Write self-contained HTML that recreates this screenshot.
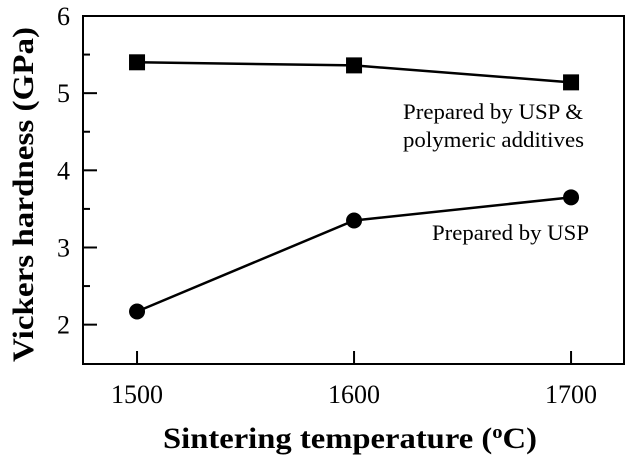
<!DOCTYPE html>
<html><head><meta charset="utf-8"><style>
html,body{margin:0;padding:0;background:#fff;}
svg{display:block;font-family:"Liberation Serif",serif;}
</style></head><body>
<svg id="chart" width="627" height="460" viewBox="0 0 627 460"></svg>
<script>
const categories=[1500,1600,1700];
const seriesUSPAdditives=[5.40,5.36,5.14];
const seriesUSP=[2.17,3.35,3.65];
const xTicks=[1500,1600,1700];
const yTicks=[2,3,4,5,6];
const yMinor=[2.5,3.5,4.5,5.5];

const svg=document.getElementById('chart');
const NS='http://www.w3.org/2000/svg';
const L=83,R=624,T=16,B=364;
const xMin=1475.1,xMax=1724.4,yMin=1.49,yMax=6.0;
const X=v=>L+(v-xMin)/(xMax-xMin)*(R-L);
const Y=v=>B-(v-yMin)/(yMax-yMin)*(B-T);
function mk(tag,attrs,parent){const e=document.createElementNS(NS,tag);for(const k in attrs)e.setAttribute(k,attrs[k]);(parent||svg).appendChild(e);return e;}

const frame=mk('rect',{x:L,y:T,width:R-L,height:B-T,fill:'none',stroke:'#000','stroke-width':2});



yTicks.forEach(v=>{
  const t=mk('line',{x1:L,x2:L+14,y1:Y(v),y2:Y(v),stroke:'#000','stroke-width':2});
  
  
  const lb=mk('text',{x:70,y:Y(v)+9,'text-anchor':'end','font-size':26});
  lb.textContent=v;
  
  
});
yMinor.forEach(v=>{
  const t=mk('line',{x1:L,x2:L+7,y1:Y(v),y2:Y(v),stroke:'#000','stroke-width':2});
  
  
});
xTicks.forEach(v=>{
  const t=mk('line',{x1:X(v),x2:X(v),y1:B,y2:B-13,stroke:'#000','stroke-width':2});
  
  
  const lb=mk('text',{x:X(v),y:403,'text-anchor':'middle','font-size':26});
  lb.textContent=v;
  
  
});

function series(vals,shape,name){
  const pts=categories.map((c,i)=>X(c)+','+Y(vals[i])).join(' ');
  const pl=mk('polyline',{points:pts,fill:'none',stroke:'#000','stroke-width':2.5});
  
  
  categories.forEach((c,i)=>{
    let m;
    if(shape==='square') m=mk('rect',{x:X(c)-8,y:Y(vals[i])-8,width:16,height:16,fill:'#000'});
    else m=mk('circle',{cx:X(c),cy:Y(vals[i]),r:8,fill:'#000'});
    
    
  });
}
series(seriesUSPAdditives,'square','usp-additives');
series(seriesUSP,'circle','usp');

function txt(s,x,y,size,extra,name){
  const t=mk('text',Object.assign({x:x,y:y,'font-size':size},extra||{}));
  t.textContent=s;
  
  
  return t;
}
txt('Prepared by USP &',403,119,22,{textLength:180,lengthAdjust:'spacingAndGlyphs'},'label-usp-additives-line1');
txt('polymeric additives',403,147,22,{textLength:181,lengthAdjust:'spacingAndGlyphs'},'label-usp-additives-line2');
txt('Prepared by USP',432,240,22,{textLength:157,lengthAdjust:'spacingAndGlyphs'},'label-usp');

const xt=mk('text',{x:163,y:448,'font-size':30,'font-weight':'bold',textLength:374,lengthAdjust:'spacingAndGlyphs'});
xt.innerHTML='Sintering temperature (<tspan baseline-shift="super" font-size="19">o</tspan>C)';


const yt=mk('text',{x:-362,y:0,'font-size':30,'font-weight':'bold',transform:'translate(33,0) rotate(-90)',textLength:335,lengthAdjust:'spacingAndGlyphs'});
yt.textContent='Vickers hardness (GPa)';


</script>
</body></html>
